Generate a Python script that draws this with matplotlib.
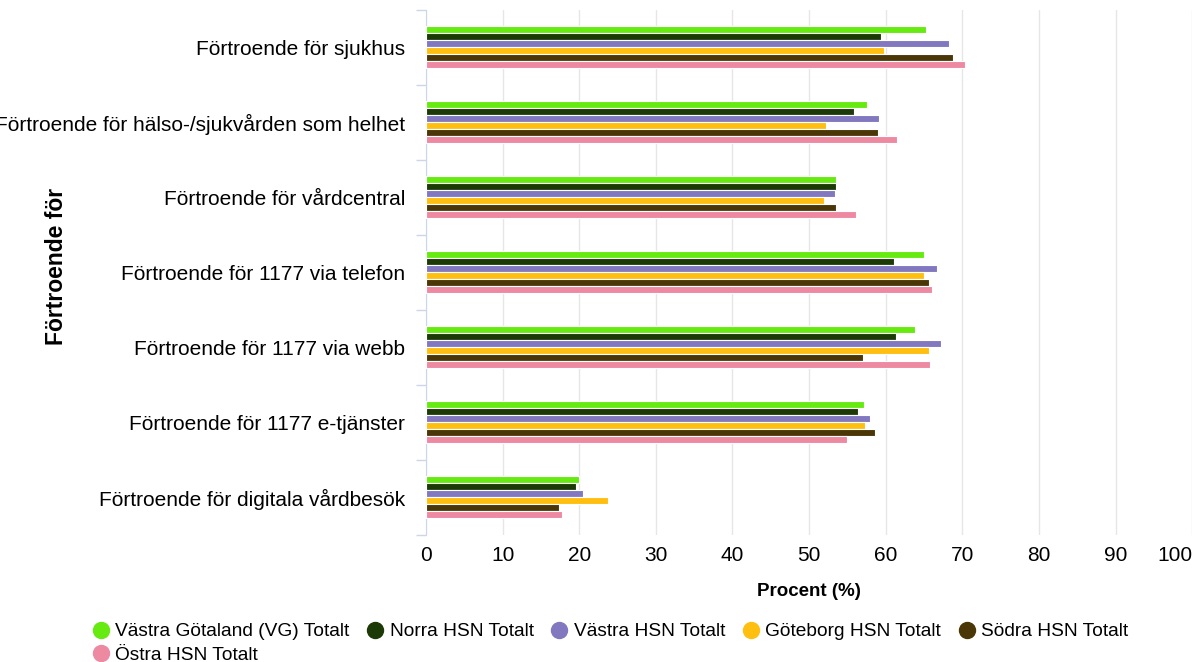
import numpy as np
import matplotlib.pyplot as plt
from matplotlib.lines import Line2D

plt.rcParams['font.family'] = ['Liberation Sans', 'DejaVu Sans']

categories = ['Förtroende för sjukhus',
              'Förtroende för hälso-/sjukvården som helhet',
              'Förtroende för vårdcentral',
              'Förtroende för 1177 via telefon',
              'Förtroende för 1177 via webb',
              'Förtroende för 1177 e-tjänster',
              'Förtroende för digitala vårdbesök']

series_names = ['Västra Götaland (VG) Totalt', 'Norra HSN Totalt', 'Västra HSN Totalt',
                'Göteborg HSN Totalt', 'Södra HSN Totalt', 'Östra HSN Totalt']
colors = ['#66ea10', '#1c3a06', '#8178c0', '#ffbf10', '#4a3606', '#ee89a2']

vg       = [65.2, 57.6, 53.5, 65.0, 63.8, 57.1, 20.0]
norra    = [59.4, 55.8, 53.5, 61.1, 61.4, 56.4, 19.6]
vastra   = [68.2, 59.1, 53.4, 66.7, 67.2, 58.0, 20.5]
goteborg = [59.8, 52.2, 51.9, 65.0, 65.7, 57.3, 23.8]
sodra    = [68.8, 59.0, 53.5, 65.6, 57.0, 58.6, 17.3]
ostra    = [70.3, 61.5, 56.1, 66.0, 65.8, 55.0, 17.8]
values = [vg, norra, vastra, goteborg, sodra, ostra]

fig = plt.figure(figsize=(12.01, 6.62), dpi=100)
ax = fig.add_axes([0.3547, 0.192, 0.638, 0.793])

y = np.arange(len(categories))
pitch = 0.56 / len(series_names)
handles = []
for i, (name, vals, c) in enumerate(zip(series_names, values, colors)):
    offs = -0.28 + pitch * (i + 0.5)
    ax.barh(y + offs, vals, height=pitch, color=c, edgecolor='white', linewidth=0.8, zorder=3)
    handles.append(Line2D([], [], marker='o', linestyle='none', markersize=11.5,
                          markerfacecolor=c, markeredgecolor=c, label=name))

ax.set_xlim(0, 100)
ax.set_ylim(len(categories) - 0.5, -0.5)
ax.set_xticks(np.arange(0, 101, 10))
ax.set_yticks(y)
ax.set_yticklabels(categories)
ax.set_yticks(np.arange(-0.5, len(categories), 1), minor=True)
ax.tick_params(axis='y', which='major', length=0, pad=15, labelsize=15)
ax.tick_params(axis='y', which='minor', length=7, color='#ccd6eb', width=1)
ax.tick_params(axis='x', length=0, pad=8, labelsize=15)
# keep the last x label inside the canvas
ax.get_xticklabels()[-1].set_horizontalalignment('right')
ax.get_xticklabels()[-1].set_x(100)
ax.grid(axis='x', color='#e6e6e6', linewidth=1, zorder=0)
for s in ['top', 'right', 'bottom']:
    ax.spines[s].set_visible(False)
ax.spines['left'].set_color('#ccd6eb')
ax.set_xlabel('Procent (%)', fontsize=13.5, fontweight='bold', labelpad=13)
fig.text(57 / 1201, 1 - 266 / 662, 'Förtroende för', rotation=90, fontsize=16.5,
         fontweight='bold', ha='center', va='center')

# column-major fill: first column holds the first and last series
order = [0, 5, 1, 2, 3, 4]
fig.legend([handles[k] for k in order], [series_names[k] for k in order],
           ncol=5, loc='upper left', bbox_to_anchor=(93 / 1201, 1 - 623 / 662),
           frameon=False, fontsize=13.8, handlelength=0.8, handletextpad=0.35,
           columnspacing=0.95, labelspacing=0.3, borderpad=0, borderaxespad=0)

fig.savefig('out.png', dpi=100)
